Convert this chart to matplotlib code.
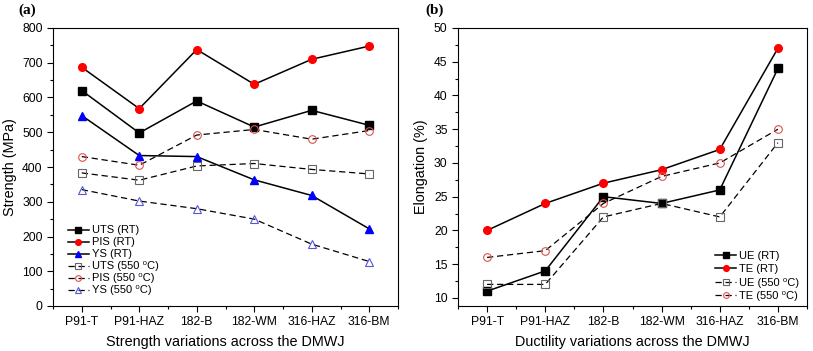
import matplotlib
matplotlib.use('Agg')
import matplotlib.pyplot as plt
import numpy as np

plt.rcParams['font.family'] = ['Liberation Sans', 'DejaVu Sans']

# ---------- Data ----------
zones = ['P91-T', 'P91-HAZ', '182-B', '182-WM', '316-HAZ', '316-BM']

uts_rt = [620, 498, 590, 515, 563, 520]
pis_rt = [687, 568, 738, 638, 710, 748]
ys_rt = [548, 433, 430, 363, 318, 222]
uts_550 = [383, 362, 403, 410, 393, 380]
pis_550 = [430, 405, 492, 508, 480, 505]
ys_550 = [335, 302, 280, 250, 178, 128]

ue_rt = [11, 14, 25, 24, 26, 44]
te_rt = [20, 24, 27, 29, 32, 47]
ue_550 = [12, 12, 22, 24, 22, 33]
te_550 = [16, 17, 24, 28, 30, 35]

x = np.arange(len(zones))

fig = plt.figure(figsize=(8.13, 3.51), dpi=100)
ax1 = fig.add_axes([53 / 813, 45 / 351, 345 / 813, 278 / 351])
ax2 = fig.add_axes([458 / 813, 45 / 351, 349 / 813, 278 / 351])

sup = '\u2070'
ms = 5.5


def solid(ax, y, color, marker, label):
    ax.plot(x, y, '-', color='black', lw=1.1, marker=marker, ms=ms,
            mfc=color, mec=color, label=label)


def dashed(ax, y, color, marker, label):
    ax.plot(x, y, '--', color='black', lw=0.9, dashes=(5, 3), marker=marker, ms=ms,
            mfc='none', mec=color, mew=0.8, label=label)


solid(ax1, uts_rt, 'black', 's', 'UTS (RT)')
solid(ax1, pis_rt, 'red', 'o', 'PIS (RT)')
solid(ax1, ys_rt, 'blue', '^', 'YS (RT)')
dashed(ax1, uts_550, '#666666', 's', 'UTS (550 ' + sup + 'C)')
dashed(ax1, pis_550, '#e05050', 'o', 'PIS (550 ' + sup + 'C)')
dashed(ax1, ys_550, '#5555dd', '^', 'YS (550 ' + sup + 'C)')

solid(ax2, ue_rt, 'black', 's', 'UE (RT)')
solid(ax2, te_rt, 'red', 'o', 'TE (RT)')
dashed(ax2, ue_550, '#666666', 's', 'UE (550 ' + sup + 'C)')
dashed(ax2, te_550, '#e05050', 'o', 'TE (550 ' + sup + 'C)')

ax1.set_ylim(0, 800)
ax1.set_yticks(np.arange(0, 801, 100))
ax1.set_yticks(np.arange(50, 800, 100), minor=True)
ax2.set_ylim(8.8, 50)
ax2.set_yticks(np.arange(10, 51, 5))
ax2.set_yticks(np.arange(12.5, 50, 5), minor=True)

for ax in (ax1, ax2):
    ax.set_xlim(-0.5, 5.5)
    ax.set_xticks(x)
    ax.set_xticklabels(zones)
    ax.set_xticks(np.arange(-0.5, 5.6, 1), minor=True)
    ax.tick_params(which='both', direction='out', top=False, right=False, labelsize=8.7)
    ax.tick_params(which='major', length=4, width=0.8)
    ax.tick_params(which='minor', length=2.5, width=0.8)
    for s in ax.spines.values():
        s.set_linewidth(0.8)

ax1.set_ylabel('Strength (MPa)', fontsize=10.4, labelpad=4)
ax1.set_xlabel('Strength variations across the DMWJ', fontsize=10.4, labelpad=5)
ax2.set_ylabel('Elongation (%)', fontsize=10.4, labelpad=4)
ax2.set_xlabel('Ductility variations across the DMWJ', fontsize=10.4, labelpad=5)

ax1.legend(loc='lower left', bbox_to_anchor=(0.02, 0.01), frameon=False, fontsize=8,
           handlelength=1.9, handletextpad=0.25, labelspacing=0.18, borderpad=0.2,
           markerscale=0.75)
ax2.legend(loc='lower right', bbox_to_anchor=(1.0, -0.01), frameon=False, fontsize=8,
           handlelength=1.9, handletextpad=0.25, labelspacing=0.3, borderpad=0.2,
           markerscale=0.75)

fig.text(18 / 813, 347 / 351, '(a)', fontsize=11, fontweight='bold',
         family='Liberation Serif', va='top')
fig.text(425 / 813, 347 / 351, '(b)', fontsize=11, fontweight='bold',
         family='Liberation Serif', va='top')

fig.savefig('out.png', dpi=100)
